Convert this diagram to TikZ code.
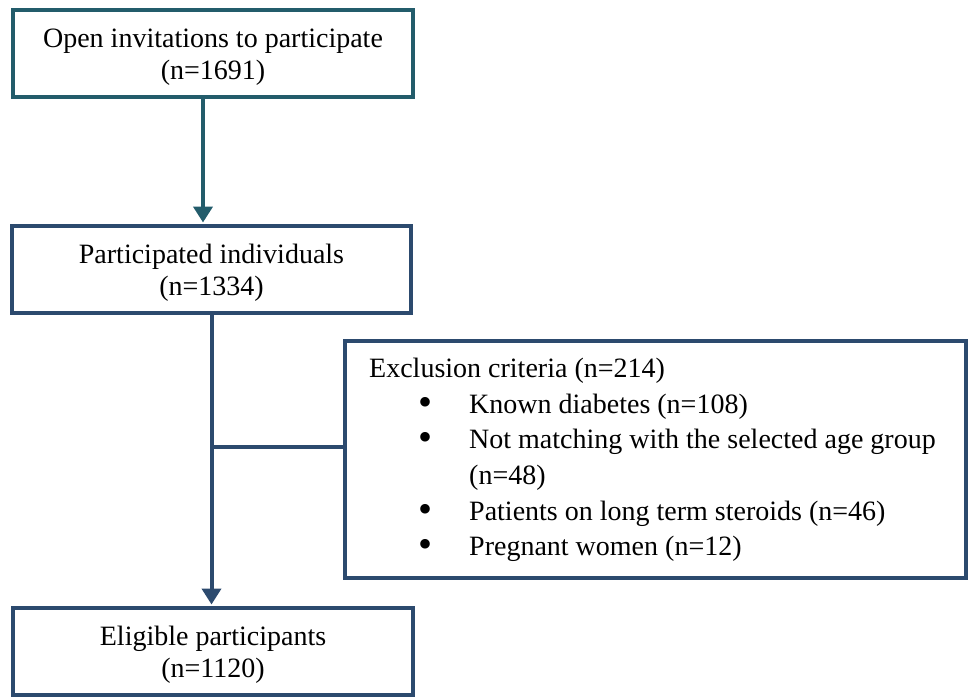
\documentclass[tikz,border=0pt]{standalone}
\usepackage{fontspec}
\setmainfont{Liberation Serif}
\usetikzlibrary{arrows.meta}
\definecolor{tealline}{HTML}{235C6B}
\definecolor{navyline}{HTML}{2C4A6E}
\newcommand{\topstrut}{\rule{0pt}{25pt}}
\newcommand{\bul}{\makebox[51pt][l]{\smash{\raisebox{-2pt}{\fontsize{40}{40}\selectfont •}}}}
\begin{document}
\begin{tikzpicture}[x=1pt,y=-1pt,
  font=\fontsize{28}{32}\selectfont,
  box/.style={draw=navyline, line width=4pt, minimum width=400pt, minimum height=87pt, align=center, inner sep=0pt},
  conn/.style={draw=navyline, line width=4pt},
  tip/.style={-{Triangle[length=16pt,width=19pt]}},
  txt/.style={anchor=base west, inner sep=0pt}]
\useasboundingbox (0,0) rectangle (968,697);
\node[box, draw=tealline] (b1) at (213,53.5) {\topstrut Open invitations to participate\\(n=1691)};
\node[box, minimum width=399pt] (b2) at (211.5,269.5) {\topstrut Participated individuals\\(n=1334)};
\node[box, minimum width=621pt, minimum height=237pt] (b3) at (655.5,459.5) {};
\node[box] (b4) at (213,651.5) {\topstrut Eligible participants\\(n=1120)};
% connectors
\coordinate (a1) at (203,53.5);
\draw[conn, draw=tealline, fill=tealline, tip, shorten >=1.5pt] (a1 |- b1.south) -- (a1 |- b2.north);
\draw[conn, fill=navyline, tip, shorten >=1.5pt] (b2.south) -- (b2.south |- b4.north);
\coordinate (j) at (211.5,447);
\draw[conn, line width=3.5pt] (j) -- (j -| b3.west);
% exclusion text
\node[txt] (e0) at (369,377) {Exclusion criteria (n=214)};
\node[txt] (e1) at (418,413) {\bul Known diabetes (n=108)};
\node[txt] (e2) at (418,448.5) {\bul Not matching with the selected age group};
\node[txt] (e2b) at (469,484) {(n=48)};
\node[txt] (e3) at (418,520) {\bul Patients on long term steroids (n=46)};
\node[txt] (e4) at (418,555) {\bul Pregnant women (n=12)};
\end{tikzpicture}
\end{document}
